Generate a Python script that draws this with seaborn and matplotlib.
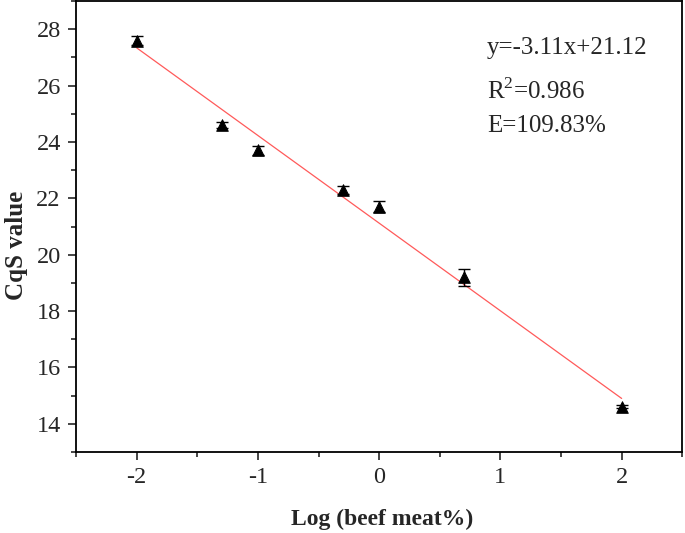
import numpy as np
import pandas as pd
import matplotlib
matplotlib.use('Agg')
import matplotlib.pyplot as plt
import seaborn as sns
from matplotlib.ticker import MultipleLocator

# Datos
log_pct = [-2.0, -1.3, -1.0, -0.3, 0.0, 0.7, 2.0]
cqs = [27.6, 24.6, 23.7, 22.3, 21.7, 19.2, 14.6]
cqs_sd = [0.15, 0.12, 0.15, 0.15, 0.2, 0.3, 0.05]
slope = -3.11
intercept = 21.12
fit_text = ['y=-3.11x+21.12', 'R$^{2}$=0.986', 'E=109.83%']

df = pd.DataFrame({'x': log_pct, 'y': cqs, 'sd': cqs_sd})

sns.set_style('ticks')
plt.rcParams['font.family'] = ['Liberation Serif', 'DejaVu Serif']
plt.rcParams['mathtext.fontset'] = 'custom'
plt.rcParams['mathtext.rm'] = 'Liberation Serif'
plt.rcParams['axes.unicode_minus'] = False

fig = plt.figure(figsize=(6.85, 5.33), dpi=100)
ax = fig.add_axes([0.111, 0.152, 0.885, 0.846])

# Recta de ajuste
fit_x = np.array([df['x'].min(), df['x'].max()])
ax.plot(fit_x, slope * fit_x + intercept, color='#ff5a5a', lw=0.9, zorder=1)

# Barras de error y puntos
ax.errorbar(df['x'], df['y'], yerr=df['sd'], fmt='none', ecolor='black',
            elinewidth=1, capsize=4, capthick=1, zorder=2)
sns.scatterplot(data=df, x='x', y='y', marker='^', s=70, color='black',
                edgecolor='black', ax=ax, zorder=3)

ax.set_xlim(-2.5, 2.5)
ax.set_ylim(13, 29)
ax.xaxis.set_major_locator(MultipleLocator(1))
ax.xaxis.set_minor_locator(MultipleLocator(0.5))
ax.yaxis.set_major_locator(MultipleLocator(2))
ax.yaxis.set_minor_locator(MultipleLocator(1))
ax.tick_params(which='major', direction='out', length=6, width=1.2,
               labelsize=17.5, pad=5)
ax.tick_params(which='minor', direction='out', length=3.5, width=1.2)
for sp in ax.spines.values():
    sp.set_linewidth(1.3)
    sp.set_color('black')

ax.set_xlabel('Log (beef meat%)', fontsize=17, fontweight='bold')
ax.set_ylabel('CqS value', fontsize=18, fontweight='bold')
ax.xaxis.set_label_coords(0.505, -0.125)
ax.yaxis.set_label_coords(-0.079, 0.458)

ys = [0.896, 0.80, 0.724]
for t, yy in zip(fit_text, ys):
    ax.text(0.678, yy, t, transform=ax.transAxes, fontsize=18,
            va='center', ha='left')

fig.savefig('out.png', dpi=100)
